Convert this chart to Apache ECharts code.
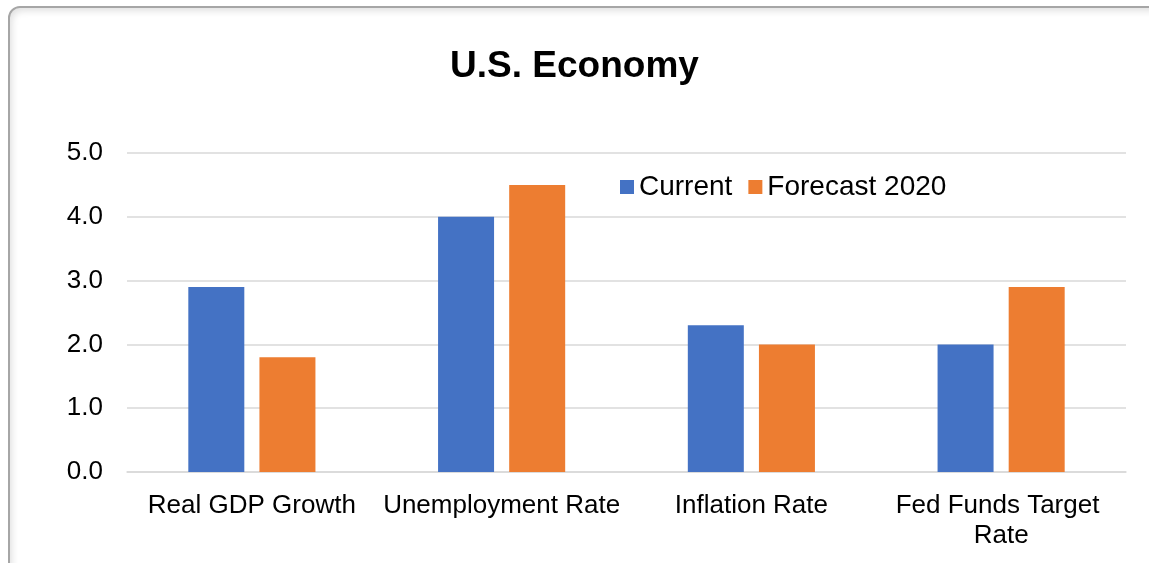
<!DOCTYPE html>
<html>
<head>
<meta charset="utf-8">
<script src="https://cdn.jsdelivr.net/npm/echarts@6/dist/echarts.min.js"></script>
<style>
  html, body { margin: 0; padding: 0; width: 1149px; height: 563px; overflow: hidden; background: #ffffff; }
  #frame {
    position: absolute; left: 8px; top: 6px; width: 1200px; height: 620px;
    border: 2px solid #a6a6a6; border-radius: 12px; box-sizing: border-box;
    box-shadow: inset 2px 3px 7px rgba(0,0,0,0.12);
  }
  #chart { position: absolute; left: 0; top: 0; width: 1149px; height: 563px; }
</style>
</head>
<body>
<div id="frame"></div>
<div id="chart"></div>
<script>
const categories = ['Real GDP Growth', 'Unemployment Rate', 'Inflation Rate', 'Fed Funds Target Rate'];
const currentValues = [2.9, 4.0, 2.3, 2.0];
const forecastValues = [1.8, 4.5, 2.0, 2.9];
const seriesNames = ['Current', 'Forecast 2020'];

const font = '"Liberation Sans", Arial, sans-serif';
const chart = echarts.init(document.getElementById('chart'), null, { renderer: 'canvas' });

chart.setOption({
  backgroundColor: 'transparent',
  animation: false,
  textStyle: { fontFamily: font },
  title: {
    text: 'U.S. Economy',
    left: 'center',
    top: 43,
    textStyle: { fontFamily: font, fontSize: 37, fontWeight: 'bold', color: '#000' }
  },
  legend: {
    left: 615,
    top: 168,
    itemWidth: 14,
    itemHeight: 14,
    itemGap: 16,
    icon: 'rect',
    textStyle: { fontFamily: font, fontSize: 28, color: '#000', padding: [0, 0, 0, 0] },
    data: seriesNames
  },
  grid: { left: 127, right: 23, top: 153, bottom: 91, containLabel: false },
  xAxis: {
    type: 'category',
    data: categories,
    axisLine: { lineStyle: { color: '#d9d9d9', width: 1.5 } },
    axisTick: { show: false },
    axisLabel: {
      fontFamily: font, fontSize: 26, color: '#000', margin: 19,
      width: 245, overflow: 'break', lineHeight: 30, interval: 0
    }
  },
  yAxis: {
    type: 'value',
    min: 0, max: 5, interval: 1,
    axisLine: { show: false },
    axisTick: { show: false },
    splitLine: { lineStyle: { color: '#d9d9d9', width: 1.5 } },
    axisLabel: {
      fontFamily: font, fontSize: 26, color: '#000', margin: 24,
      formatter: v => v.toFixed(1)
    }
  },
  series: [
    { name: seriesNames[0], type: 'bar', data: currentValues, barWidth: 56, barGap: '27%',
      itemStyle: { color: '#4472c4' } },
    { name: seriesNames[1], type: 'bar', data: forecastValues, barWidth: 56,
      itemStyle: { color: '#ed7d31' } }
  ]
});
</script>
</body>
</html>
